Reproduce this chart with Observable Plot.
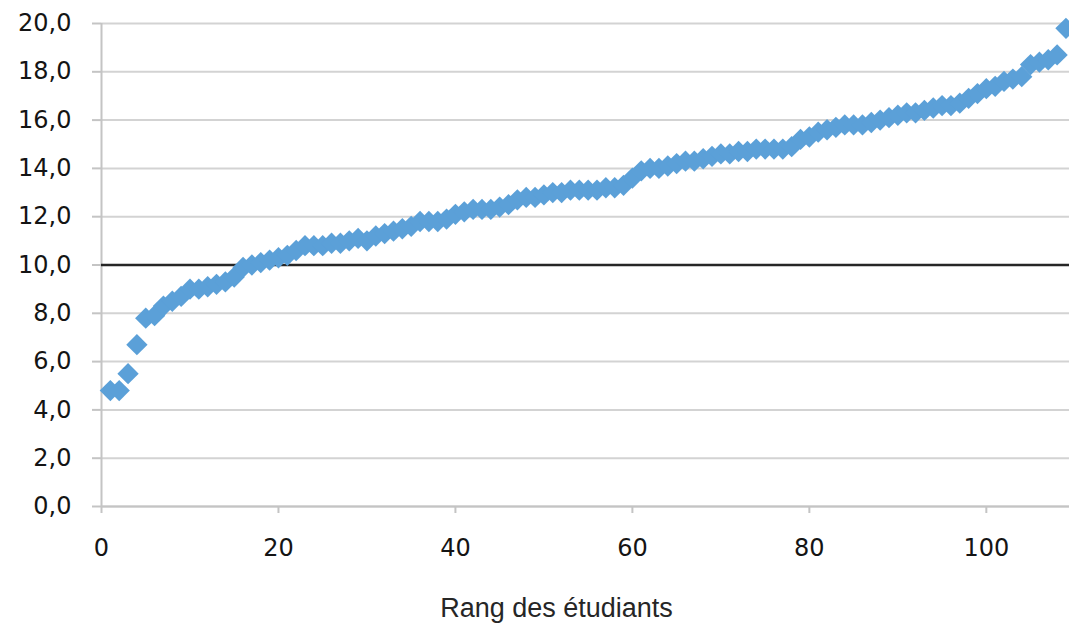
<!DOCTYPE html>
<html>
<head>
<meta charset="utf-8">
<script src="https://cdn.jsdelivr.net/npm/d3@7"></script>
<script src="https://cdn.jsdelivr.net/npm/@observablehq/plot@0.6"></script>
<style>
  html, body { margin: 0; padding: 0; background: #fff; }
  #chart svg { display: block; }
</style>
</head>
<body>
<div id="chart"></div>
<script>
// Notes of the students, sorted ascending (rank 1..109)
const notes = [
  4.8, 4.8, 5.5, 6.7, 7.8, 7.9, 8.3, 8.5, 8.7, 9.0,
  9.0, 9.1, 9.2, 9.3, 9.5, 9.9, 10.0, 10.1, 10.2, 10.3,
  10.4, 10.6, 10.8, 10.8, 10.8, 10.9, 10.9, 11.0, 11.1, 11.0,
  11.2, 11.3, 11.4, 11.5, 11.6, 11.8, 11.8, 11.8, 11.9, 12.1,
  12.2, 12.3, 12.3, 12.3, 12.4, 12.5, 12.7, 12.8, 12.8, 12.9,
  13.0, 13.0, 13.1, 13.1, 13.1, 13.1, 13.2, 13.2, 13.3, 13.6,
  13.9, 14.0, 14.0, 14.1, 14.2, 14.3, 14.3, 14.4, 14.5, 14.6,
  14.6, 14.7, 14.7, 14.8, 14.8, 14.8, 14.8, 14.9, 15.2, 15.3,
  15.5, 15.6, 15.7, 15.8, 15.8, 15.8, 15.9, 16.0, 16.1, 16.2,
  16.3, 16.3, 16.4, 16.5, 16.6, 16.6, 16.7, 16.9, 17.1, 17.3,
  17.4, 17.6, 17.7, 17.8, 18.3, 18.4, 18.5, 18.7, 19.8
];
const xTicks = [0, 20, 40, 60, 80, 100];
const yTicks = [0, 2, 4, 6, 8, 10, 12, 14, 16, 18, 20];
const seuil = [10];
const xTitle = "Rang des étudiants";

const data = notes.map((note, i) => ({rang: i + 1, note}));

const chart = Plot.plot({
  width: 1069,
  height: 629,
  marginLeft: 101,
  marginRight: 0,
  marginTop: 23,
  marginBottom: 123,
  style: {fontFamily: "'DejaVu Sans', sans-serif", background: "#fff"},
  x: {domain: [0, 109.4]},
  y: {domain: [0, 20]},
  marks: [
    Plot.gridY(yTicks, {stroke: "#d3d3d3", strokeOpacity: 1, strokeWidth: 2}),
    Plot.ruleX([0], {stroke: "#c4c4c4", strokeWidth: 2}),
    Plot.ruleY([0], {stroke: "#c4c4c4", strokeWidth: 2}),
    Plot.axisY(yTicks, {
      tickFormat: d => d.toFixed(1).replace(".", ","),
      tickSize: 9, tickPadding: 21,
      stroke: "#c4c4c4", strokeWidth: 2, fill: "#141414",
      fontSize: 24, label: null
    }),
    Plot.axisX(xTicks, {
      tickSize: 7, tickPadding: 25,
      stroke: "#c4c4c4", strokeWidth: 2, fill: "#141414",
      fontSize: 24, label: null
    }),
    Plot.ruleY(seuil, {stroke: "#262626", strokeWidth: 2.5}),
    Plot.dot(data, {x: "rang", y: "note", symbol: "diamond2", r: 9.6, fill: "#5ba0d8", stroke: null}),
    Plot.text([xTitle], {
      frameAnchor: "bottom", dy: 110, dx: -29,
      fontSize: 27, fill: "#262626",
      fontFamily: "'Liberation Sans', Arial, sans-serif",
      style: "letter-spacing: 1.6px"
    })
  ]
});

document.getElementById("chart").appendChild(chart);
</script>
</body>
</html>
